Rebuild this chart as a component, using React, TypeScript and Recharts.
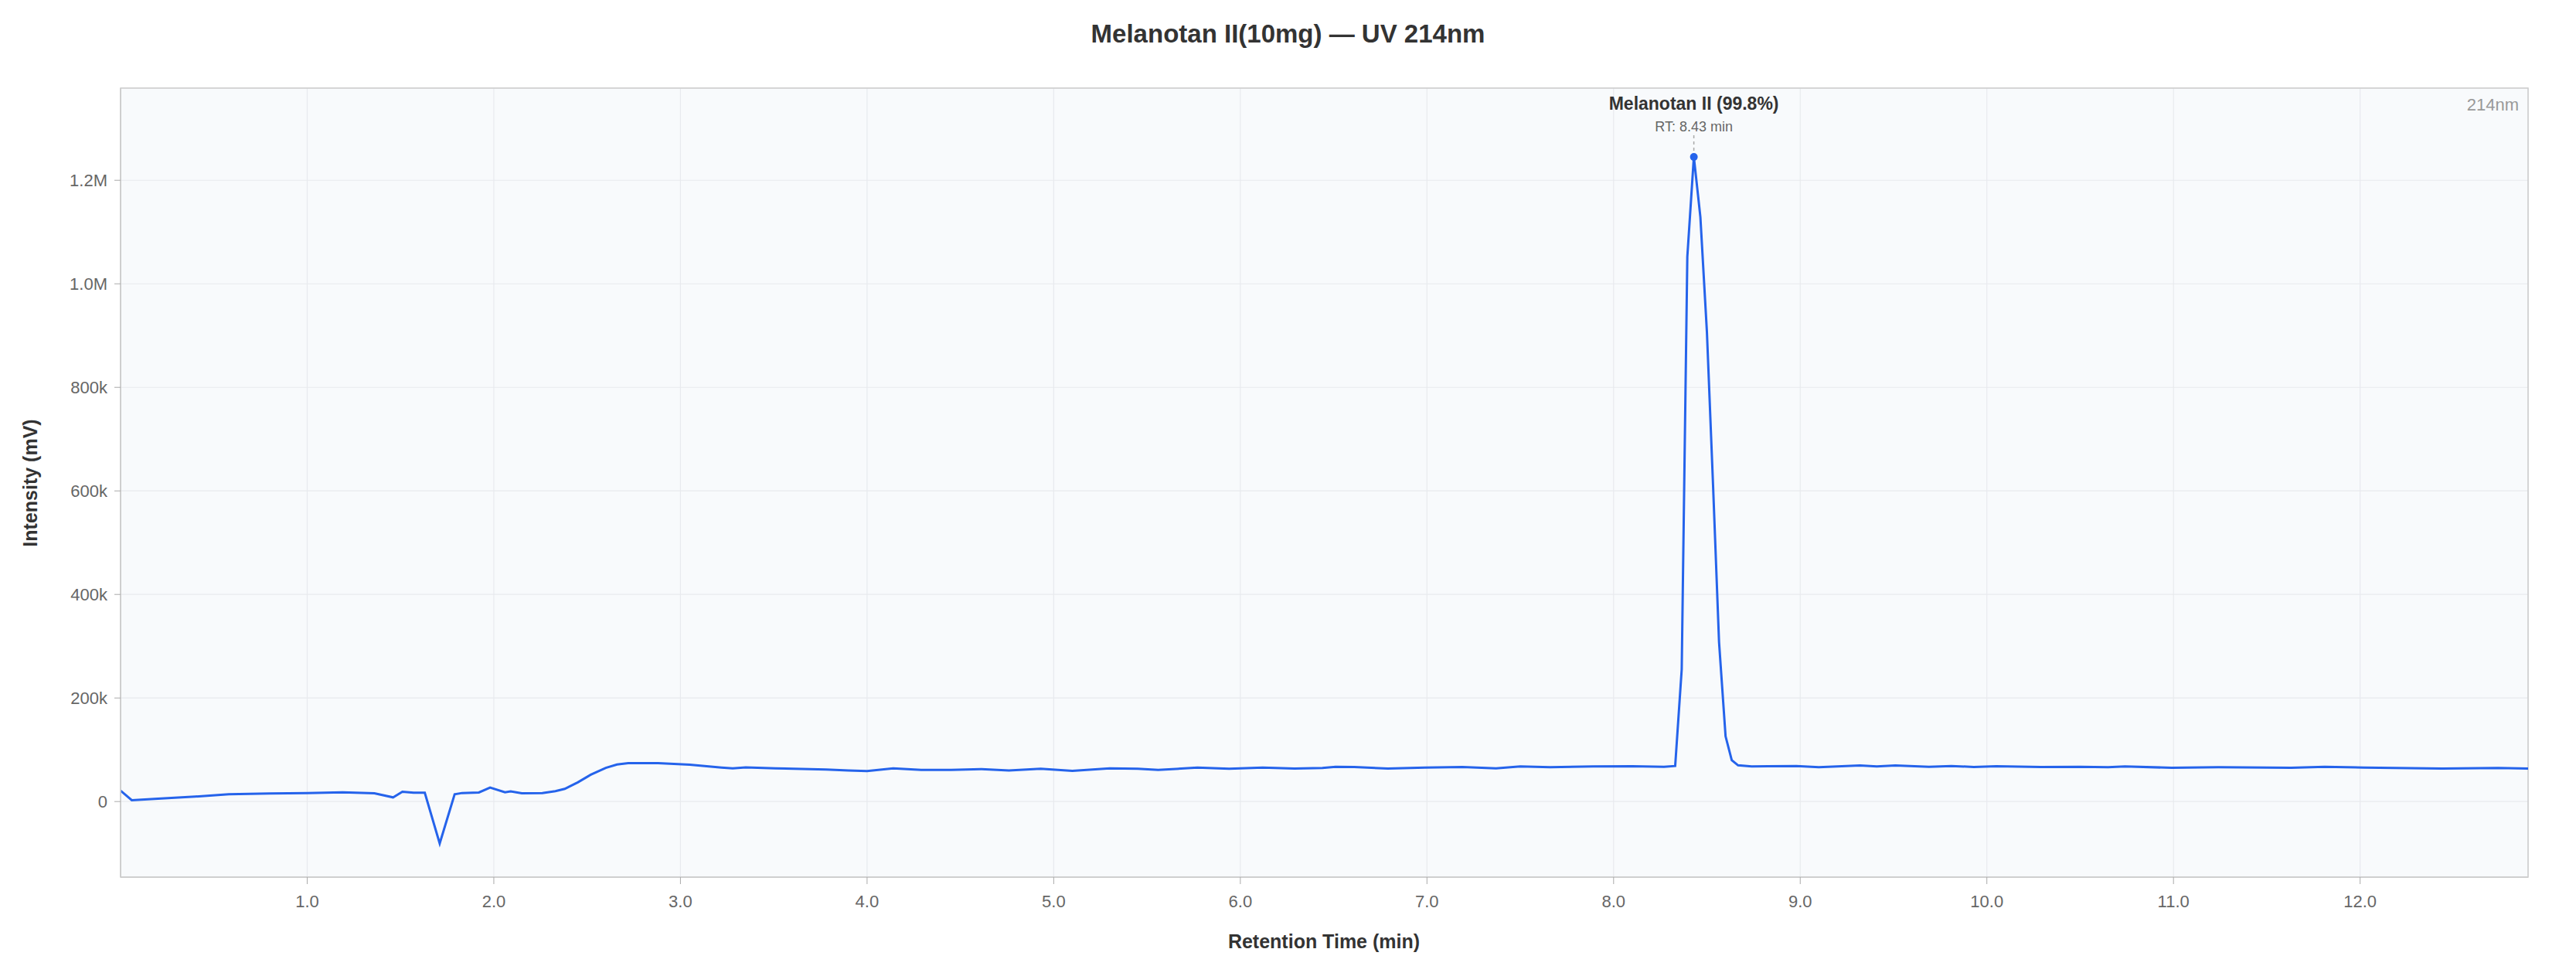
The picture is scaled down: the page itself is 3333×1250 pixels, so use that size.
import { LineChart, Line, XAxis, YAxis, CartesianGrid, ReferenceDot, ReferenceLine, ReferenceArea } from 'recharts'

// retention time (min) and detector response
const RT_MIN = [
  0.0, 0.06, 0.2, 0.4, 0.58, 0.8, 1.0, 1.19, 1.36, 1.46, 1.51, 1.57, 1.63, 1.71, 1.79, 1.83,
  1.92, 1.98, 2.06, 2.09, 2.15, 2.26, 2.33, 2.38, 2.45, 2.52, 2.6, 2.66, 2.72, 2.88, 3.05, 3.22,
  3.28, 3.35, 3.51, 3.78, 3.9, 4.0, 4.14, 4.29, 4.45, 4.61, 4.76, 4.93, 5.1, 5.3, 5.45, 5.56,
  5.77, 5.94, 6.12, 6.29, 6.44, 6.51, 6.61, 6.79, 6.99, 7.19, 7.37, 7.5, 7.66, 7.89, 8.1, 8.27,
  8.33, 8.365, 8.395, 8.43, 8.465, 8.5, 8.533, 8.565, 8.6, 8.633, 8.667, 8.74, 8.98, 9.1, 9.32, 9.41,
  9.51, 9.69, 9.81, 9.93, 10.05, 10.29, 10.5, 10.65, 10.74, 10.99, 11.24, 11.63, 11.81, 12.02, 12.44, 12.74,
  12.9,
]
const INTENSITY = [
  21000, 2500, 5500, 9500, 14000, 15500, 16500, 18000, 16000, 8000, 19000, 17000, 17000, -81000, 14000, 16500,
  17500, 27000, 18000, 19500, 16000, 16500, 20000, 24500, 37000, 52000, 65000, 71500, 74000, 74000, 71000, 65500,
  64000, 66000, 64000, 62000, 60000, 58700, 64000, 61000, 61000, 62700, 60000, 63500, 59200, 64000, 63500, 61000,
  65500, 63200, 65500, 63700, 64700, 67000, 66700, 63700, 65700, 66700, 64200, 68000, 66200, 67700, 68200, 67200,
  68700, 255500, 1052000, 1245000, 1129000, 907000, 610000, 308000, 126000, 80000, 70000, 67700, 68700, 66200, 69700, 67700,
  69700, 67200, 68700, 66700, 68200, 66700, 67200, 66200, 67700, 65200, 66200, 65200, 67200, 65700, 63700, 64700,
  63700,
]

const X_TICKS = [1, 2, 3, 4, 5, 6, 7, 8, 9, 10, 11, 12]
const Y_TICKS = [0, 200000, 400000, 600000, 800000, 1000000, 1200000]
const X_DOMAIN = [0, 12.9]
const Y_DOMAIN = [-146000, 1378000]

const PEAK_NAME = 'Melanotan II (99.8%)'
const PEAK_RT = 8.43
const PEAK_VALUE = 1245000
const PEAK_LEADER_TOP = 1292000

const TITLE = 'Melanotan II(10mg) — UV 214nm'
const WAVELENGTH = '214nm'

const W = 3317
const H = 1234
const FONT = '"Liberation Sans", Arial, Helvetica, sans-serif'
const BLUE = '#2563eb'

const data = RT_MIN.map((t, i) => ({ t, v: INTENSITY[i] }))

const fmtY = (v: number) => {
  if (v === 0) return '0'
  if (Math.abs(v) >= 1000000) return `${(v / 1000000).toFixed(1)}M`
  return `${Math.round(v / 1000)}k`
}

function PeakMarker(props: any) {
  const { cx, cy } = props
  return (
    <g>
      <circle cx={cx} cy={cy} r={5} fill={BLUE} />
      <text x={cx} y={cy - 61} textAnchor="middle" fontSize={23} fontWeight={700} fill="#333">
        {PEAK_NAME}
      </text>
      <text x={cx} y={cy - 33} textAnchor="middle" fontSize={18} fill="#666">
        {`RT: ${PEAK_RT.toFixed(2)} min`}
      </text>
    </g>
  )
}

export default function App() {
  return (
    <div style={{ position: 'relative', width: W, height: H, fontFamily: FONT, background: '#fff' }}>
      <LineChart width={W} height={H} data={data} margin={{ top: 106, right: 54, bottom: 47, left: 60 }}>
        <CartesianGrid fill="#f8fafc" stroke="#e8eaee" strokeWidth={1.2} />
        <XAxis
          dataKey="t"
          type="number"
          domain={X_DOMAIN}
          ticks={X_TICKS}
          allowDataOverflow
          tickFormatter={(v) => Number(v).toFixed(1)}
          height={60}
          tickSize={9}
          tickMargin={14}
          tick={{ fontSize: 22, fill: '#666' }}
          axisLine={{ stroke: '#ccc', strokeWidth: 1.5 }}
          tickLine={{ stroke: '#aaa' }}
        />
        <YAxis
          type="number"
          domain={Y_DOMAIN}
          ticks={Y_TICKS}
          allowDataOverflow
          tickFormatter={fmtY}
          width={88}
          tickSize={8}
          tickMargin={9}
          tick={{ fontSize: 22, fill: '#666' }}
          axisLine={{ stroke: '#ccc', strokeWidth: 1.5 }}
          tickLine={{ stroke: '#aaa' }}
        />
        <ReferenceArea
          x1={X_DOMAIN[0]}
          x2={X_DOMAIN[1]}
          y1={Y_DOMAIN[0]}
          y2={Y_DOMAIN[1]}
          fill="none"
          fillOpacity={0}
          stroke="#ccc"
          strokeWidth={1.5}
        />
        <Line
          type="linear"
          dataKey="v"
          stroke={BLUE}
          strokeWidth={3}
          dot={false}
          activeDot={false}
          isAnimationActive={false}
        />
        <ReferenceLine
          segment={[{ x: PEAK_RT, y: PEAK_VALUE }, { x: PEAK_RT, y: PEAK_LEADER_TOP }]}
          stroke="#aaa"
          strokeWidth={1.5}
          strokeDasharray="4 4"
        />
        <ReferenceDot x={PEAK_RT} y={PEAK_VALUE} r={5} shape={PeakMarker} />
      </LineChart>
      <svg width={W} height={H} style={{ position: 'absolute', left: 0, top: 0, pointerEvents: 'none' }}>
        <text x={W / 2} y={47} textAnchor="middle" fontSize={33} fontWeight={700} fill="#333">
          {TITLE}
        </text>
        <text x={40} y={617} transform="rotate(-90, 40, 617)" textAnchor="middle" fontSize={25} fontWeight={700} fill="#333">
          Intensity (mV)
        </text>
        <text x={1705} y={1219} textAnchor="middle" fontSize={25} fontWeight={700} fill="#333">
          Retention Time (min)
        </text>
        <text x={3251} y={135} textAnchor="end" fontSize={22} fill="#999">
          {WAVELENGTH}
        </text>
      </svg>
    </div>
  )
}
